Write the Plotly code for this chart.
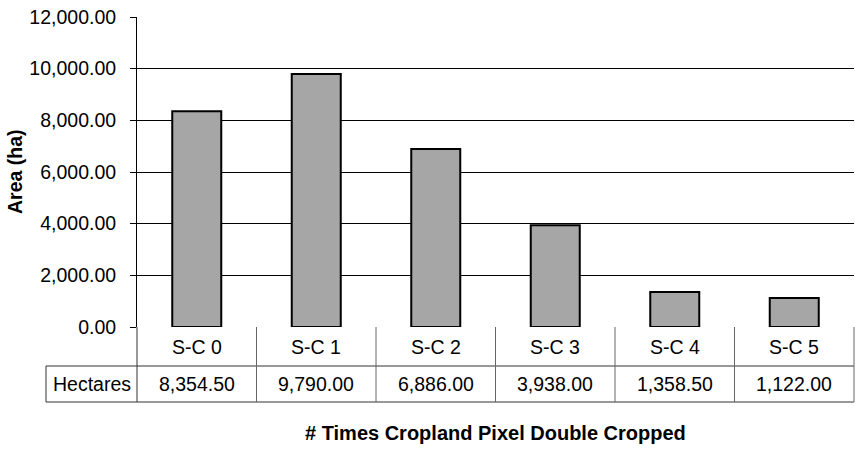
import plotly.graph_objects as go

categories = ["S-C 0", "S-C 1", "S-C 2", "S-C 3", "S-C 4", "S-C 5"]
hectares = [8354.50, 9790.00, 6886.00, 3938.00, 1358.50, 1122.00]
row_label = "Hectares"
y_title = "Area (ha)"
x_title = "# Times Cropland Pixel Double Cropped"
y_ticks = [0, 2000, 4000, 6000, 8000, 10000, 12000]

W, H = 855, 462
L, R, T, B = 137, 1, 17, 135
plot_w = W - L - R
plot_h = H - T - B
FONT = "Liberation Sans, Arial, sans-serif"
FS = 19.5

def py(px_below):
    # convert pixels below the plot bottom to paper y
    return -px_below / plot_h

def px(x_pixel):
    return (x_pixel - L) / plot_w

fig = go.Figure(go.Bar(
    x=categories, y=hectares, width=0.41,
    marker=dict(color="#a6a6a6", line=dict(color="black", width=2)),
))

n = len(categories)
row1_bot = py(39)
row2_bot = py(75)
line_col = "#333333"
shapes = []
shapes.append(dict(type="line", xref="paper", yref="paper", x0=0, x1=1, y0=row1_bot, y1=row1_bot,
                   line=dict(color=line_col, width=1)))
shapes.append(dict(type="line", xref="paper", yref="paper", x0=px(46), x1=0, y0=row1_bot, y1=row1_bot,
                   line=dict(color=line_col, width=1)))
shapes.append(dict(type="line", xref="paper", yref="paper", x0=px(46), x1=1, y0=row2_bot, y1=row2_bot,
                   line=dict(color=line_col, width=1)))
for i in range(n + 1):
    xp = i / n
    shapes.append(dict(type="line", xref="paper", yref="paper", x0=xp, x1=xp, y0=0, y1=row2_bot,
                       line=dict(color=line_col if i == 0 else "#666666", width=1)))
shapes.append(dict(type="line", xref="paper", yref="paper", x0=px(46), x1=px(46), y0=row1_bot, y1=row2_bot,
                   line=dict(color=line_col, width=1)))

annotations = []
for i, (c, v) in enumerate(zip(categories, hectares)):
    xc = (i + 0.5) / n
    annotations.append(dict(x=xc, y=(0 + row1_bot) / 2, xref="paper", yref="paper", text=c,
                            showarrow=False, font=dict(family=FONT, size=FS, color="black"),
                            xanchor="center", yanchor="middle"))
    annotations.append(dict(x=xc, y=(row1_bot + row2_bot) / 2, xref="paper", yref="paper",
                            text=f"{v:,.2f}", showarrow=False,
                            font=dict(family=FONT, size=FS, color="black"),
                            xanchor="center", yanchor="middle"))
annotations.append(dict(x=(px(46) + 0) / 2, y=(row1_bot + row2_bot) / 2, xref="paper", yref="paper",
                        text=row_label, showarrow=False, font=dict(family=FONT, size=FS, color="black"),
                        xanchor="center", yanchor="middle"))
annotations.append(dict(x=0.5, y=py(433 - 327), xref="paper", yref="paper", text=f"<b>{x_title}</b>",
                        showarrow=False, font=dict(family=FONT, size=20, color="black"),
                        xanchor="center", yanchor="middle"))
annotations.append(dict(x=px(15), y=0.5, xref="paper", yref="paper", text=f"<b>{y_title}</b>",
                        textangle=-90, showarrow=False, font=dict(family=FONT, size=FS, color="black"),
                        xanchor="center", yanchor="middle"))

fig.update_layout(
    width=W, height=H,
    margin=dict(l=L, r=R, t=T, b=B),
    paper_bgcolor="white", plot_bgcolor="white",
    showlegend=False,
    shapes=shapes, annotations=annotations,
    xaxis=dict(range=[-0.5, n - 0.5], showticklabels=False, ticks="", showgrid=False,
               showline=False, zeroline=False, fixedrange=True),
    yaxis=dict(range=[0, 12000], tickvals=y_ticks, tickformat=",.2f",
               ticks="outside", ticklen=6, tickcolor="black", tickwidth=1,
               ticklabelstandoff=10,
               showline=True, linecolor="black", linewidth=1,
               showgrid=True, gridcolor="black", gridwidth=1, zeroline=False,
               tickfont=dict(family=FONT, size=FS, color="black")),
)

fig.write_html("out.html")
